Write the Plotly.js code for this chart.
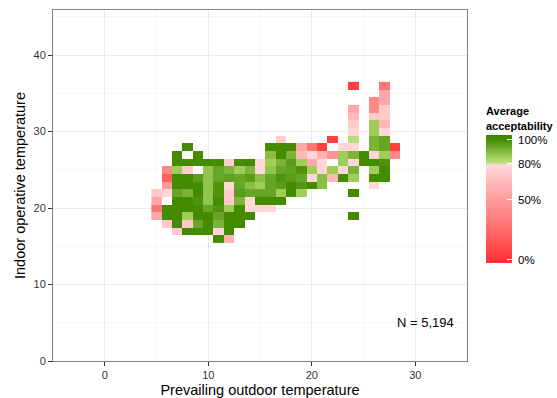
<!DOCTYPE html>
<html>
<head>
<meta charset="utf-8">
<script src="https://cdn.plot.ly/plotly-3.0.1.min.js"></script>
<style>html,body{margin:0;padding:0;background:#fff;}#chart{width:557px;height:398px;}</style>
</head>
<body>
<div id="chart"></div>
<script>
const _ = null;
// Prevailing outdoor temperature bins (cell centres)
const xBins = [5,6,7,8,9,10,11,12,13,14,15,16,17,18,19,20,21,22,23,24,25,26,27,28,29];
// Indoor operative temperature bins (cell centres)
const yBins = [16,17,18,19,20,21,22,23,24,25,26,27,28,29,30,31,32,33,34,35,36];
// Average acceptability per cell, one array per indoor-temperature row (columns 5 … 29)
const row16 = [_,_,_,_,_, _,1,.6,_,_, _,_,_,_,_, _,_,_,_,_, _,_,_,_,_];
const row17 = [_,_,.71,1,1, 1,.77,1,_,_, _,_,_,_,_, _,_,_,_,_, _,_,_,_,_];
const row18 = [_,.71,1,.71,.94, 1,.91,1,1,_, _,_,_,_,_, _,_,_,_,_, _,_,_,_,_];
const row19 = [.56,1,1,.86,1, 1,.94,1,1,1, _,_,_,_,_, _,_,_,_,1, _,_,_,_,_];
const row20 = [.3,1,1,1,1, .94,.98,.86,1,.77, .77,.77,_,_,_, _,_,_,_,_, _,_,_,_,_];
const row21 = [.56,_,1,1,.98, .88,1,.71,.91,.77, 1,1,1,_,_, _,_,_,_,_, _,_,_,_,_];
const row22 = [.71,.77,.94,.91,1, .88,.98,.72,.96,.94, .94,.94,.86,1,.86, _,_,_,_,1, _,_,_,_,_];
const row23 = [_,.48,1,1,1, .88,.98,.77,.94,.89, .86,.94,.96,1,.97, 1,.89,_,_,_, _,.77,_,_,_];
const row24 = [_,.2,1,1,.96, .88,.94,.95,.94,.96, .89,.94,.98,.96,.94, .77,.89,.64,1,.86, _,1,1,_,_];
const row25 = [_,.4,.86,.72,_, .88,.94,.91,.86,.91, .77,.88,.94,.95,.98, .86,.77,.86,.77,.91, _,.86,1,_,_];
const row26 = [_,_,1,1,1, 1,1,.73,1,1, .77,.86,.91,.96,.86, .56,.77,_,.86,.77, 1,1,.98,_,_];
const row27 = [_,_,1,_,1, _,_,_,_,_, _,.89,1,.91,.64, .77,.62,.45,.86,.91, 1,.77,.86,.4,_];
const row28 = [_,_,_,1,_, _,_,_,_,_, _,1,1,1,.56, .3,.05,_,.77,.77, _,.91,.94,.05,_];
const row29 = [_,_,_,_,_, _,_,_,_,_, _,_,.72,_,_, _,_,.05,_,.82, _,.91,.94,_,_];
const row30 = [_,_,_,_,_, _,_,_,_,_, _,_,_,_,_, _,_,_,_,.77, _,.86,.77,_,_];
const row31 = [_,_,_,_,_, _,_,_,_,_, _,_,_,_,_, _,_,_,_,.72, _,.86,.64,_,_];
const row32 = [_,_,_,_,_, _,_,_,_,_, _,_,_,_,_, _,_,_,_,.64, _,.72,.72,_,_];
const row33 = [_,_,_,_,_, _,_,_,_,_, _,_,_,_,_, _,_,_,_,.56, _,.4,.72,_,_];
const row34 = [_,_,_,_,_, _,_,_,_,_, _,_,_,_,_, _,_,_,_,_, _,.4,.56,_,_];
const row35 = [_,_,_,_,_, _,_,_,_,_, _,_,_,_,_, _,_,_,_,_, _,_,.56,_,_];
const row36 = [_,_,_,_,_, _,_,_,_,_, _,_,_,_,_, _,_,_,_,.05, _,_,.3,_,_];
const acceptability = [row16,row17,row18,row19,row20,row21,row22,row23,row24,row25,row26,
  row27,row28,row29,row30,row31,row32,row33,row34,row35,row36];

// legend ticks
const legendTickVals = [0, 0.5, 0.8, 1];
const legendTickText = [' 0%', ' 50%', ' 80%', ' 100%'];
const sampleLabel = 'N = 5,194';

// colour stops in value space
const zMin = -0.025, zMax = 1.036;
const stops = [
  [-0.025,'#ff3030'],[0,'#ff3535'],[0.25,'#ff6c6c'],[0.5,'#ff9c9c'],[0.65,'#ffbaba'],
  [0.79,'#ffdcdc'],[0.8,'#c2e28a'],[0.87,'#98c950'],[0.94,'#66a526'],[1.0,'#458b00'],[1.036,'#3e8500']
];
const colorscale = stops.map(s => [(s[0]-zMin)/(zMax-zMin), s[1]]);

const trace = {
  type: 'heatmap',
  x: xBins, y: yBins, z: acceptability,
  zmin: zMin, zmax: zMax,
  colorscale: colorscale,
  zsmooth: false,
  hoverinfo: 'skip',
  colorbar: {
    thickness: 26, thicknessmode: 'pixels',
    len: 159, lenmode: 'pixels',
    x: 1.0459, xanchor: 'left', y: 0.5057, yanchor: 'middle',
    xpad: 0, ypad: 0, outlinewidth: 0,
    tickmode: 'array', tickvals: legendTickVals, ticktext: legendTickText,
    ticks: 'inside', ticklen: 5, tickcolor: '#ffffff', tickwidth: 1,
    tickfont: {size: 11.5, color: '#000'},
    title: {text: '<b>Average<br>acceptability</b>', side: 'top', font: {size: 11, color: '#000'}}
  }
};

const axisCommon = {
  ticks: 'outside', ticklen: 4, tickcolor: '#333', tickwidth: 1,
  tickfont: {size: 11, color: '#333'},
  showgrid: true, gridcolor: '#ebebeb', gridwidth: 1,
  showline: true, mirror: true, linecolor: '#7f7f7f', linewidth: 1,
  zeroline: false, fixedrange: true
};

const layout = {
  width: 557, height: 398,
  margin: {l: 53, r: 90, t: 10, b: 37, autoexpand: false},
  paper_bgcolor: '#ffffff', plot_bgcolor: '#ffffff',
  font: {family: 'Liberation Sans, Arial, Helvetica, sans-serif', color: '#000'},
  xaxis: Object.assign({}, axisCommon, {
    range: [-5, 35], tickmode: 'array', tickvals: [0,10,20,30],
    minor: {tickmode: 'array', tickvals: [-5,5,15,25,35], showgrid: true, gridcolor: '#f7f7f7', ticks: ''},
    title: {text: 'Prevailing outdoor temperature', font: {size: 14.5, color: '#000'}, standoff: 6}
  }),
  yaxis: Object.assign({}, axisCommon, {
    range: [0, 45.9], tickmode: 'array', tickvals: [0,10,20,30,40],
    minor: {tickmode: 'array', tickvals: [5,15,25,35,45], showgrid: true, gridcolor: '#f7f7f7', ticks: ''},
    title: {text: 'Indoor operative temperature', font: {size: 14.5, color: '#000'}, standoff: 4}
  }),
  annotations: [{
    x: 31, y: 5, xref: 'x', yref: 'y', text: sampleLabel, showarrow: false,
    xanchor: 'center', yanchor: 'middle', font: {size: 13, color: '#000'}
  }]
};

Plotly.newPlot('chart', [trace], layout, {displayModeBar: false, staticPlot: true});
</script>
</body>
</html>
